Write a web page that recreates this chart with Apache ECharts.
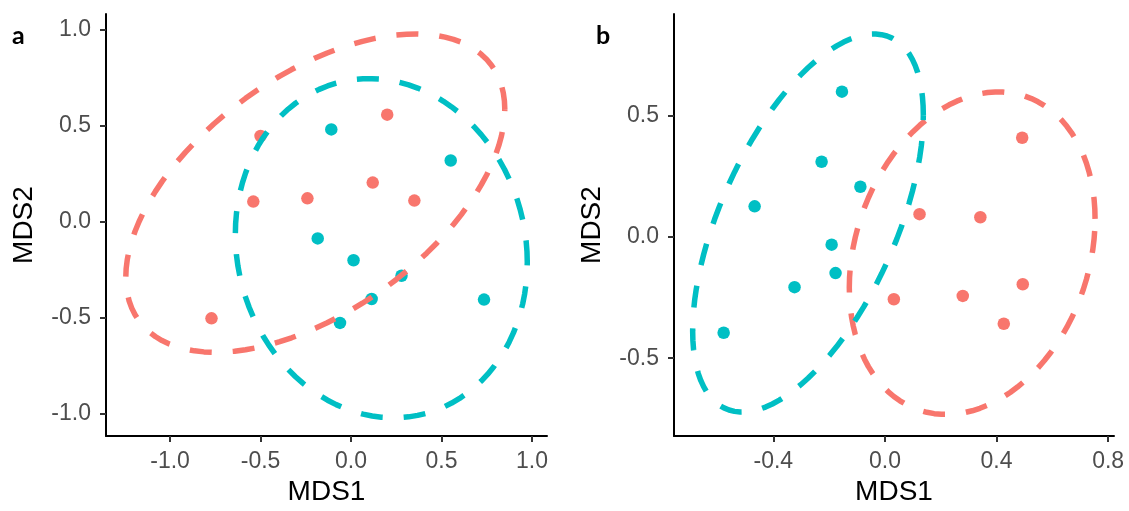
<!DOCTYPE html>
<html><head><meta charset="utf-8">
<script src="https://cdn.jsdelivr.net/npm/echarts@6/dist/echarts.min.js"></script>
<style>html,body{margin:0;padding:0;background:#fff}#c{width:1129px;height:511px}</style>
</head><body><div id="c"></div>
<script>
// ---------- data ----------
// Panel a
const aRedX  = [-0.50, 0.20, -0.54, -0.241, 0.12, 0.35, -0.771];
const aRedY  = [0.448, 0.559, 0.106, 0.123, 0.205, 0.111, -0.503];
const aBlueX = [-0.109, 0.551, -0.184, 0.014, 0.279, 0.114, 0.735, -0.061];
const aBlueY = [0.482, 0.320, -0.086, -0.200, -0.281, -0.402, -0.405, -0.527];
// Panel b
const bRedX  = [0.492, 0.124, 0.342, 0.494, 0.032, 0.279, 0.426];
const bRedY  = [0.409, 0.094, 0.081, -0.195, -0.257, -0.243, -0.358];
const bBlueX = [-0.154, -0.227, -0.088, -0.467, -0.191, -0.177, -0.324, -0.578];
const bBlueY = [0.599, 0.310, 0.207, 0.126, -0.032, -0.149, -0.207, -0.395];
// tick labels
const aTicksX = [-1.0, -0.5, 0.0, 0.5, 1.0];
const aTicksY = [-1.0, -0.5, 0.0, 0.5, 1.0];
const bTicksX = [-0.4, 0.0, 0.4, 0.8];
const bTicksY = [-0.5, 0.0, 0.5];
// axis ranges
const aRangeX = [-1.354, 1.083];
const aRangeY = [-1.117, 1.084];
const bRangeX = [-0.756, 0.821];
const bRangeY = [-0.821, 0.919];

const RED = '#F8766D', BLUE = '#00BFC4';
const CONF_SCALE = Math.sqrt(5.991465); // sqrt(qchisq(0.95, 2)), 95% covariance ellipse

function pairs(xs, ys) { return xs.map((x, i) => [x, ys[i]]); }
function ellipse(xs, ys, n) {
  const m = xs.length;
  const mx = xs.reduce((s, v) => s + v, 0) / m;
  const my = ys.reduce((s, v) => s + v, 0) / m;
  let sxx = 0, syy = 0, sxy = 0;
  for (let i = 0; i < m; i++) {
    const dx = xs[i] - mx, dy = ys[i] - my;
    sxx += dx * dx; syy += dy * dy; sxy += dx * dy;
  }
  sxx /= (m - 1); syy /= (m - 1); sxy /= (m - 1);
  const a = Math.sqrt(sxx), b = sxy / a, c = Math.sqrt(syy - b * b);
  const pts = [];
  for (let k = 0; k <= n; k++) {
    const t = 2 * Math.PI * k / n, ct = Math.cos(t), st = Math.sin(t);
    pts.push([mx + CONF_SCALE * ct * a, my + CONF_SCALE * (ct * b + st * c)]);
  }
  return pts;
}

const FONT = 'Liberation Sans';
function axis(gi, range, ticks, name, isY) {
  return {
    type: 'value', gridIndex: gi, min: range[0], max: range[1],
    name: name, nameLocation: 'middle', nameGap: isY ? 68 : 40,
    nameTextStyle: { fontSize: 28, color: '#000', fontFamily: FONT },
    axisLine: { show: true, onZero: false, lineStyle: { color: '#000', width: 2 } },
    axisTick: { show: true, length: 6, customValues: ticks, lineStyle: { color: '#333', width: 2 } },
    axisLabel: { customValues: ticks, formatter: v => v.toFixed(1), color: '#4D4D4D',
                 fontSize: 23, fontFamily: FONT, margin: isY ? 15 : 14 },
    splitLine: { show: false }
  };
}
function pts(gi, xs, ys, color) {
  return { type: 'scatter', xAxisIndex: gi, yAxisIndex: gi, data: pairs(xs, ys),
           symbolSize: 12.5, itemStyle: { color: color, opacity: 1 }, z: 2, silent: true };
}
function ell(gi, xs, ys, color) {
  return { type: 'line', xAxisIndex: gi, yAxisIndex: gi, data: ellipse(xs, ys, 100),
           showSymbol: false, symbol: 'none', smooth: false, z: 3, silent: true,
           lineStyle: { color: color, width: 5.5, type: [22, 21] } };
}

const chart = echarts.init(document.getElementById('c'), null, { renderer: 'canvas' });
chart.setOption({
  animation: false,
  backgroundColor: '#fff',
  grid: [
    { left: 106, top: 14, width: 441, height: 429 },
    { left: 674, top: 14, width: 440, height: 428 }
  ],
  xAxis: [axis(0, aRangeX, aTicksX, 'MDS1', false), axis(1, bRangeX, bTicksX, 'MDS1', false)],
  yAxis: [axis(0, aRangeY, aTicksY, 'MDS2', true), axis(1, bRangeY, bTicksY, 'MDS2', true)],
  graphic: [
    { type: 'text', x: 12, y: 36, style: { text: 'a', font: 'bold 25px Lato', fill: '#000', verticalAlign: 'middle' } },
    { type: 'text', x: 596, y: 36, style: { text: 'b', font: 'bold 25px Lato', fill: '#000', verticalAlign: 'middle' } }
  ],
  series: [
    pts(0, aRedX, aRedY, RED), pts(0, aBlueX, aBlueY, BLUE),
    ell(0, aRedX, aRedY, RED), ell(0, aBlueX, aBlueY, BLUE),
    pts(1, bRedX, bRedY, RED), pts(1, bBlueX, bBlueY, BLUE),
    ell(1, bRedX, bRedY, RED), ell(1, bBlueX, bBlueY, BLUE)
  ]
});
</script></body></html>
